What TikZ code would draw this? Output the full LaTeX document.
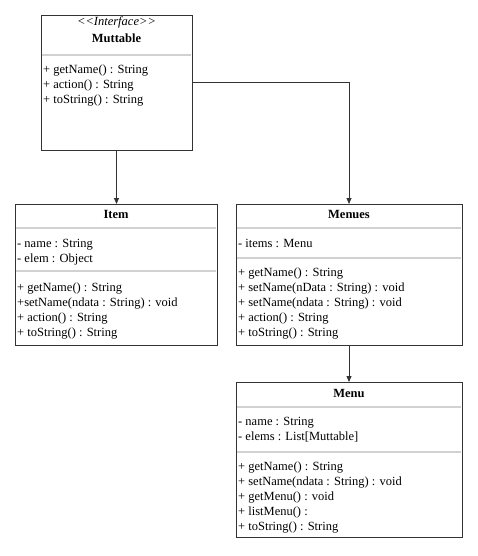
\documentclass[tikz,border=0pt]{standalone}
\usepackage{fontspec}
\setmainfont{Liberation Serif}
\usetikzlibrary{arrows.meta}
\begin{document}
\begin{tikzpicture}[x=1pt,y=-1pt,
  umlbox/.style={draw=black!80, line width=0.8pt, fill=white, inner sep=0, outer sep=0, anchor=north west},
  sep/.style={draw=black!18, line width=1.6pt},
  txt/.style={anchor=base west, inner sep=0, font=\fontsize{12.5}{15}\selectfont},
  title/.style={anchor=base, inner sep=0, font=\fontsize{12.5}{15}\selectfont\bfseries},
  stereo/.style={anchor=base, inner sep=0, font=\fontsize{12.5}{15}\selectfont\itshape},
  conn/.style={draw=black!80, line width=0.8pt, -{Triangle[width=5pt,length=6pt]}}]
\useasboundingbox[fill=white] (0,0) rectangle (477,556);

% interface Muttable
\node[umlbox, minimum width=151, minimum height=135] (mut) at (41,15) {};
\draw[sep] (41.6,55) -- (191.4,55);
\node[stereo] (mutst) at (116.5,26) {<\kern0pt<Interface>\kern0pt>};
\node[title] (mutt) at (116.5,43) {Muttable};
\node[txt] (mut1) at (43,74) {+ getName() : String};
\node[txt] (mut2) at (43,89) {+ action() : String};
\node[txt] (mut3) at (43,104) {+ toString() : String};

% class Item
\node[umlbox, minimum width=202, minimum height=141] (item) at (15,204) {};
\draw[sep] (15.6,228) -- (216.4,228);
\draw[sep] (15.6,271) -- (216.4,271);
\node[title] (itemt) at (116,218) {Item};
\node[txt] (item1) at (17,247) {- name : String};
\node[txt] (item2) at (17,262) {- elem : Object};
\node[txt] (item3) at (17,291) {+ getName() : String};
\node[txt] (item4) at (17,306) {+setName(ndata : String) : void};
\node[txt] (item5) at (17,321) {+ action() : String};
\node[txt] (item6) at (17,336) {+ toString() : String};

% class Menues
\node[umlbox, minimum width=226, minimum height=141] (menues) at (236,204) {};
\draw[sep] (236.6,228) -- (461.4,228);
\draw[sep] (236.6,258) -- (461.4,258);
\node[title] (menuest) at (349,218) {Menues};
\node[txt] (menues1) at (238,247) {- items : Menu};
\node[txt] (menues2) at (238,276) {+ getName() : String};
\node[txt] (menues3) at (238,291) {+ setName(nData : String) : void};
\node[txt] (menues4) at (238,306) {+ setName(ndata : String) : void};
\node[txt] (menues5) at (238,321) {+ action() : String};
\node[txt] (menues6) at (238,336) {+ toString() : String};

% class Menu
\node[umlbox, minimum width=226, minimum height=155] (menu) at (236,382) {};
\draw[sep] (236.6,407) -- (461.4,407);
\draw[sep] (236.6,452) -- (461.4,452);
\node[title] (menut) at (349,397) {Menu};
\node[txt] (menu1) at (238,425) {- name : String};
\node[txt] (menu2) at (238,440) {- elems : List[Muttable]};
\node[txt] (menu3) at (238,470) {+ getName() : String};
\node[txt] (menu4) at (238,485) {+ setName(ndata : String) : void};
\node[txt] (menu5) at (238,500) {+ getMenu() : void};
\node[txt] (menu6) at (238,515) {+ listMenu() :};
\node[txt] (menu7) at (238,530) {+ toString() : String};

% connectors
\draw[conn] (mut.south) -- (mut.south |- item.north);
\draw[conn] (mut.east) -| (menues.north);
\draw[conn] (menues.south) -- (menu.north);
\end{tikzpicture}
\end{document}
